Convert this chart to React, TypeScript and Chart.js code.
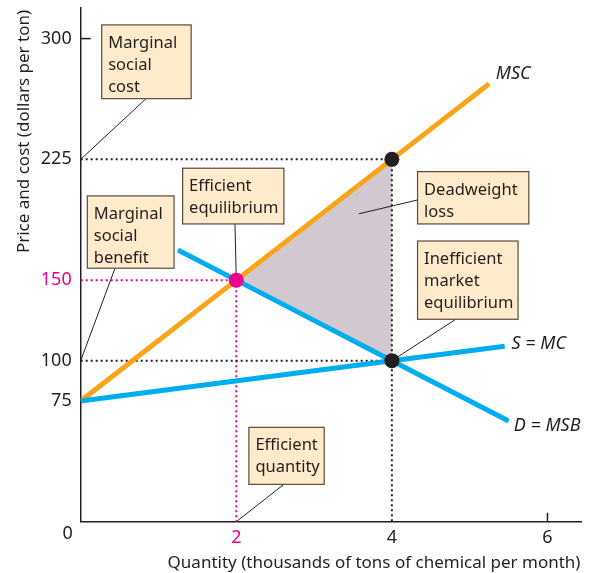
import { useEffect, useRef } from 'react';
import { Chart, registerables } from 'chart.js';

Chart.register(...registerables);

// ---------- data ----------
const mscQuantity = [0, 2, 4, 5.25];
const mscPrice = [75, 150, 225, 272];

const supplyQuantity = [0, 4, 5.45];
const supplyPrice = [75, 100, 109];

const demandQuantity = [1.25, 2, 4, 5.5];
const demandPrice = [168.75, 150, 100, 62.5];

const efficientQuantity = 2;
const efficientPrice = 150;
const marketQuantity = 4;
const marketPrice = 100;
const marketSocialCost = 225;

const yTickValues = [75, 100, 150, 225, 300];
const xTickValues = [2, 4, 6];
const highlightedYTick = 150;
const highlightedXTick = 2;
const innerTickY = [300];
const innerTickX = [6];

const xTitle = 'Quantity (thousands of tons of chemical per month)';
const yTitle = 'Price and cost (dollars per ton)';
const originLabel = '0';

// ---------- styles ----------
const FONT = '"Noto Sans", "DejaVu Sans", sans-serif';
const INK = '#231F20';
const PINK = '#EC008C';
const ORANGE = '#F9A51A';
const BLUE = '#00AEEF';
const DWL_FILL = '#D1C8D0';
const BOX_FILL = '#FEEBCB';
const BOX_EDGE = '#5A4A3C';

const toPoints = (xs: number[], ys: number[]) => xs.map((v, i) => ({ x: v, y: ys[i] }));

// annotation boxes, in data coordinates
const boxes = [
  { lines: ['Marginal', 'social', 'cost'], x0: 0.27, y0: 308.5, x1: 1.42, y1: 262.7, from: [0.84, 262.7], to: [0, marketSocialCost] },
  { lines: ['Efficient', 'equilibrium'], x0: 1.31, y0: 219.5, x1: 2.612, y1: 184.9, from: [1.983, 184.9], to: [efficientQuantity, efficientPrice] },
  { lines: ['Marginal', 'social', 'benefit'], x0: 0.085, y0: 202.3, x1: 1.2, y1: 157.4, from: [0.441, 157.4], to: [0, marketPrice] },
  { lines: ['Deadweight', 'loss'], x0: 4.33, y0: 217.4, x1: 5.76, y1: 184.9, from: [4.33, 199.8], to: [3.576, 191.2] },
  { lines: ['Inefficient', 'market', 'equilibrium'], x0: 4.33, y0: 174.3, x1: 5.622, y1: 125.7, from: [4.822, 125.7], to: [marketQuantity, marketPrice] },
  { lines: ['Efficient', 'quantity'], x0: 2.162, y0: 58.6, x1: 3.13, y1: 23.2, from: [2.612, 23.2], to: [efficientQuantity, 0] },
];

const curveLabels = [
  { text: 'MSC', x: 5.336, y: 278 },
  { text: 'S = MC', x: 5.538, y: 110.6 },
  { text: 'D = MSB', x: 5.567, y: 59.8 },
];

const guide = (pts: { x: number; y: number }[], color: string) => ({
  data: pts,
  showLine: true,
  borderColor: color,
  borderWidth: 2,
  borderDash: [2, 3],
  pointRadius: 0,
  fill: false,
  order: 2,
});

const curve = (pts: { x: number; y: number }[], color: string) => ({
  data: pts,
  showLine: true,
  borderColor: color,
  borderWidth: 5,
  borderCapStyle: 'butt',
  pointRadius: 0,
  fill: false,
  order: 1,
});

const econPlugin = {
  id: 'econAnnotations',
  afterDatasetDraw(chart: any, args: any) {
    if (args.index !== 0) return;
    // callout lines, drawn right after the deadweight-loss fill
    const { ctx, scales } = chart;
    const px = (v: number) => scales.x.getPixelForValue(v);
    const py = (v: number) => scales.y.getPixelForValue(v);
    ctx.save();
    ctx.strokeStyle = INK;
    ctx.lineWidth = 1;
    for (const b of boxes) {
      ctx.beginPath();
      ctx.moveTo(px(b.from[0]), py(b.from[1]));
      ctx.lineTo(px(b.to[0]), py(b.to[1]));
      ctx.stroke();
    }
    ctx.restore();
  },
  afterDatasetsDraw(chart: any) {
    const { ctx, scales, chartArea } = chart;
    const px = (v: number) => scales.x.getPixelForValue(v);
    const py = (v: number) => scales.y.getPixelForValue(v);
    ctx.save();

    // boxes
    for (const b of boxes) {
      const l = px(b.x0), t = py(b.y0), r = px(b.x1), bt = py(b.y1);
      ctx.fillStyle = BOX_FILL;
      ctx.fillRect(l, t, r - l, bt - t);
      ctx.strokeStyle = BOX_EDGE;
      ctx.lineWidth = 1.2;
      ctx.strokeRect(l, t, r - l, bt - t);
      ctx.fillStyle = INK;
      ctx.font = `16.5px ${FONT}`;
      ctx.textAlign = 'left';
      ctx.textBaseline = 'alphabetic';
      b.lines.forEach((s, i) => ctx.fillText(s, l + 6.5, t + 23 + 22 * i));
    }

    // curve labels
    ctx.font = `italic 18px ${FONT}`;
    ctx.fillStyle = INK;
    ctx.textAlign = 'left';
    ctx.textBaseline = 'middle';
    for (const c of curveLabels) ctx.fillText(c.text, px(c.x), py(c.y));

    // inner tick marks
    ctx.strokeStyle = INK;
    ctx.lineWidth = 1.5;
    for (const v of innerTickY) {
      ctx.beginPath();
      ctx.moveTo(chartArea.left, py(v));
      ctx.lineTo(chartArea.left + 10, py(v));
      ctx.stroke();
    }
    for (const v of innerTickX) {
      ctx.beginPath();
      ctx.moveTo(px(v), chartArea.bottom);
      ctx.lineTo(px(v), chartArea.bottom - 9);
      ctx.stroke();
    }

    // origin label
    ctx.font = `18px ${FONT}`;
    ctx.textAlign = 'right';
    ctx.textBaseline = 'middle';
    ctx.fillText(originLabel, chartArea.left - 8, chartArea.bottom + 12);

    // axis titles
    ctx.font = `17px ${FONT}`;
    ctx.textAlign = 'center';
    ctx.textBaseline = 'alphabetic';
    ctx.fillText(xTitle, 374, 567.5);
    ctx.save();
    ctx.translate(29, 131.5);
    ctx.rotate(-Math.PI / 2);
    ctx.fillText(yTitle, 0, 0);
    ctx.restore();

    ctx.restore();
  },
};

export default function App() {
  const canvasRef = useRef<HTMLCanvasElement | null>(null);

  useEffect(() => {
    if (!canvasRef.current) return;
    const chart = new Chart(canvasRef.current, {
      type: 'scatter',
      data: {
        datasets: [
          {
            data: toPoints(
              [efficientQuantity, marketQuantity, marketQuantity],
              [efficientPrice, marketSocialCost, marketPrice]
            ),
            showLine: true,
            fill: 'shape',
            backgroundColor: DWL_FILL,
            borderWidth: 0,
            borderColor: 'rgba(0,0,0,0)',
            pointRadius: 0,
            order: 3,
          } as any,
          guide(toPoints([0, marketQuantity], [marketSocialCost, marketSocialCost]), INK),
          guide(toPoints([0, marketQuantity], [marketPrice, marketPrice]), INK),
          guide(toPoints([marketQuantity, marketQuantity], [marketSocialCost, 0]), INK),
          guide(toPoints([0, efficientQuantity], [efficientPrice, efficientPrice]), PINK),
          guide(toPoints([efficientQuantity, efficientQuantity], [efficientPrice, 0]), PINK),
          curve(toPoints(supplyQuantity, supplyPrice), BLUE),
          curve(toPoints(demandQuantity, demandPrice), BLUE),
          curve(toPoints(mscQuantity, mscPrice), ORANGE),
          {
            data: toPoints(
              [efficientQuantity, marketQuantity, marketQuantity],
              [efficientPrice, marketSocialCost, marketPrice]
            ),
            showLine: false,
            pointRadius: 7.5,
            pointBorderWidth: 0,
            pointBackgroundColor: [PINK, INK, INK],
            order: 0,
          },
        ] as any,
      },
      options: {
        animation: false,
        responsive: false,
        devicePixelRatio: 1,
        events: [],
        layout: { autoPadding: false, padding: { left: 0, top: 8, right: 10.3, bottom: 0 } },
        plugins: { legend: { display: false }, tooltip: { enabled: false } },
        scales: {
          x: {
            type: 'linear',
            min: 0,
            max: 6.44,
            afterBuildTicks: (s: any) => {
              s.ticks = xTickValues.map((v) => ({ value: v }));
            },
            afterFit: (s: any) => {
              s.height = 51.3;
              s.paddingLeft = 0;
              s.paddingRight = 0;
            },
            grid: { display: false, drawTicks: false },
            border: { display: true, color: INK, width: 1.5 },
            ticks: {
              padding: 5,
              autoSkip: false,
              maxRotation: 0,
              font: { family: FONT, size: 18 },
              color: (c: any) => (c.tick && c.tick.value === highlightedXTick ? PINK : INK),
            },
          },
          y: {
            type: 'linear',
            min: 0,
            max: 319,
            afterBuildTicks: (s: any) => {
              s.ticks = yTickValues.map((v) => ({ value: v }));
            },
            afterFit: (s: any) => {
              s.width = 80.7;
              s.paddingTop = 0;
              s.paddingBottom = 0;
            },
            grid: { display: false, drawTicks: false },
            border: { display: true, color: INK, width: 1.5 },
            ticks: {
              padding: 9,
              autoSkip: false,
              font: { family: FONT, size: 18 },
              color: (c: any) => (c.tick && c.tick.value === highlightedYTick ? PINK : INK),
            },
          },
        },
      } as any,
      plugins: [econPlugin],
    });
    return () => chart.destroy();
  }, []);

  return (
    <div style={{ position: 'absolute', left: 0, top: 0, width: 592, height: 573, background: '#fff' }}>
      <canvas ref={canvasRef} width={592} height={573} />
    </div>
  );
}
